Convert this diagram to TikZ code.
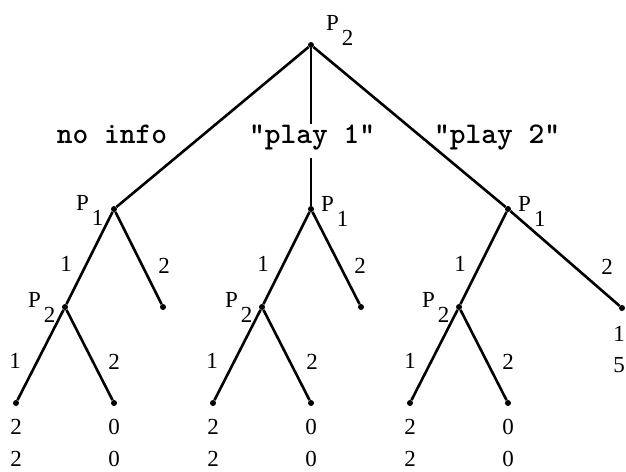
\documentclass[tikz,border=0pt]{standalone}
\usepackage{fontspec}
\setmainfont{Liberation Serif}
\newcommand\Plab[1]{P\kern3pt\raisebox{-15pt}{#1}}
\begin{document}
\begin{tikzpicture}[x=1pt,y=-1pt,
  dot/.style={circle,fill=black,inner sep=0pt,minimum size=6pt},
  edge/.style={line width=2.6pt},
  num/.style={font=\fontsize{23}{23}\selectfont,inner sep=0pt},
  plab/.style={num,anchor=base west},
  pay/.style={num,anchor=base},
  info/.style={font=\ttfamily\bfseries\fontsize{30}{30}\selectfont,inner sep=0pt,anchor=base}
]
\useasboundingbox (0,0) rectangle (626,471);
% decision nodes and leaves
\node[dot] (r) at (311,45) {};
\node[dot] (a) at (114,209) {};
\node[dot] (b) at (311,209) {};
\node[dot] (c) at (508,209) {};
\node[dot] (a2) at (65,307) {};
\node[dot] (b2) at (262,307) {};
\node[dot] (c2) at (459,307) {};
\node[dot] (aR) at (163,307) {};
\node[dot] (bR) at (361,307) {};
\node[dot] (cR) at (622,308) {};
\node[dot] (a21) at (16,403) {};
\node[dot] (a22) at (114,403) {};
\node[dot] (b21) at (213,403) {};
\node[dot] (b22) at (311,403) {};
\node[dot] (c21) at (410,403) {};
\node[dot] (c22) at (508,403) {};
\coordinate (gt) at (311,124);
\coordinate (gb) at (311,158);
% edges
\draw[edge] (r) -- (a);
\draw[edge] (r) -- (gt);
\draw[edge] (gb) -- (b);
\draw[edge] (r) -- (c);
\draw[edge] (a) -- (a2); \draw[edge] (a) -- (aR);
\draw[edge] (b) -- (b2); \draw[edge] (b) -- (bR);
\draw[edge] (c) -- (c2); \draw[edge] (c) -- (cR);
\draw[edge] (a2) -- (a21); \draw[edge] (a2) -- (a22);
\draw[edge] (b2) -- (b21); \draw[edge] (b2) -- (b22);
\draw[edge] (c2) -- (c21); \draw[edge] (c2) -- (c22);
% player labels
\node[plab] (lr) at (326,30) {\Plab{2}};
\node[plab] (la) at (76,210) {\Plab{1}};
\node[plab] (lb) at (321,211) {\Plab{1}};
\node[plab] (lc) at (518,211) {\Plab{1}};
\node[plab] (la2) at (28,307) {\Plab{2}};
\node[plab] (lb2) at (225,307) {\Plab{2}};
\node[plab] (lc2) at (422,307) {\Plab{2}};
% information labels
\node[info] (i0) at (112,143) {no info};
\node[info] (i1) at (312,143) {"play 1"};
\node[info] (i2) at (497,143) {"play 2"};
% edge labels
\node[num] (ea1) at (66,264) {1};
\node[num] (ea2) at (164,266) {2};
\node[num] (eb1) at (263,264) {1};
\node[num] (eb2) at (360,266) {2};
\node[num] (ec1) at (460,264) {1};
\node[num] (ec2) at (607,267) {2};
\node[num] (ea21) at (15,361) {1};
\node[num] (ea22) at (114,362) {2};
\node[num] (eb21) at (212,361) {1};
\node[num] (eb22) at (312,362) {2};
\node[num] (ec21) at (410,361) {1};
\node[num] (ec22) at (508,362) {2};
% payoffs
\node[pay] (pa1a) at (16,434) {2}; \node[pay] (pa1b) at (16,466) {2};
\node[pay] (pa2a) at (114,434) {0}; \node[pay] (pa2b) at (114,466) {0};
\node[pay] (pb1a) at (213,434) {2}; \node[pay] (pb1b) at (213,466) {2};
\node[pay] (pb2a) at (311,434) {0}; \node[pay] (pb2b) at (311,466) {0};
\node[pay] (pc1a) at (410,434) {2}; \node[pay] (pc1b) at (410,466) {2};
\node[pay] (pc2a) at (508,434) {0}; \node[pay] (pc2b) at (508,466) {0};
\node[pay] (pcRa) at (619,341) {1}; \node[pay] (pcRb) at (619,372) {5};
\end{tikzpicture}
\end{document}
